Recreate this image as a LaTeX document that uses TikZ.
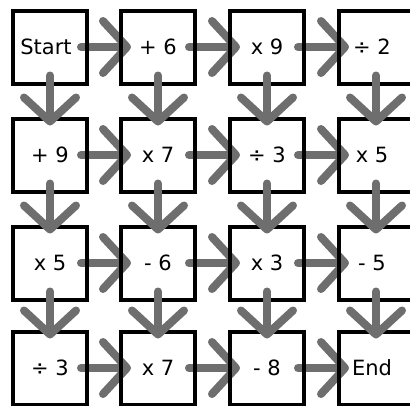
\documentclass[tikz,border=0pt]{standalone}
\usepackage{fontspec}
\setmainfont{DejaVu Sans}
\usetikzlibrary{arrows.meta}
\pgfdeclarelayer{bg}
\pgfsetlayers{bg,main}
\definecolor{arrgray}{HTML}{6E6E6E}
\tikzset{
  cell/.style={draw=black, line width=4pt, minimum width=74pt, minimum height=73pt,
    inner sep=0pt, font=\fontsize{21}{24}\selectfont},
  flow/.style={draw=arrgray, line width=8pt, line cap=round,
    -{Straight Barb[length=24pt,width=52pt,round]}},
}
\begin{document}
\begin{tikzpicture}[x=1pt,y=-1pt]
\clip (0,0) rectangle (410,405);
% boxes
\node[cell] (a1) at (50,47) {\hspace*{-8pt}Start};
\node[cell] (a2) at (158,47) {+ 6};
\node[cell] (a3) at (267,47) {x 9};
\node[cell] (a4) at (376,47) {\hspace*{-8pt}÷ 2};
\node[cell] (b1) at (50,155) {+ 9};
\node[cell] (b2) at (158,155) {x 7};
\node[cell] (b3) at (267,155) {÷ 3};
\node[cell] (b4) at (376,155) {\hspace*{-8pt}x 5};
\node[cell] (c1) at (50,263) {x 5};
\node[cell] (c2) at (158,263) {- 6};
\node[cell] (c3) at (267,263) {x 3};
\node[cell] (c4) at (376,263) {\hspace*{-8pt}- 5};
\node[cell] (d1) at (50,368) {÷ 3};
\node[cell] (d2) at (158,368) {x 7};
\node[cell] (d3) at (267,368) {- 8};
\node[cell] (d4) at (376,368) {\hspace*{-8pt}End};
% background and horizontal arrows (under the box borders)
\begin{pgfonlayer}{bg}
\fill[white] (0,0) rectangle (410,405);
\foreach \r in {a,b,c,d}{
  \draw[flow] ([xshift=-8pt]\r1.east) -- ([xshift=12pt]\r2.west);
  \draw[flow] ([xshift=-8pt]\r2.east) -- ([xshift=12pt]\r3.west);
  \draw[flow] ([xshift=-8pt]\r3.east) -- ([xshift=12pt]\r4.west);
}
\end{pgfonlayer}
% vertical arrows (over the box borders)
\foreach \c in {1,2,3,4}{
  \draw[flow] ([yshift=10pt]a\c.south) -- ([yshift=-9pt]b\c.north);
  \draw[flow] ([yshift=10pt]b\c.south) -- ([yshift=-9pt]c\c.north);
  \draw[flow] ([yshift=10pt]c\c.south) -- ([yshift=-9pt]d\c.north);
}
\end{tikzpicture}
\end{document}
